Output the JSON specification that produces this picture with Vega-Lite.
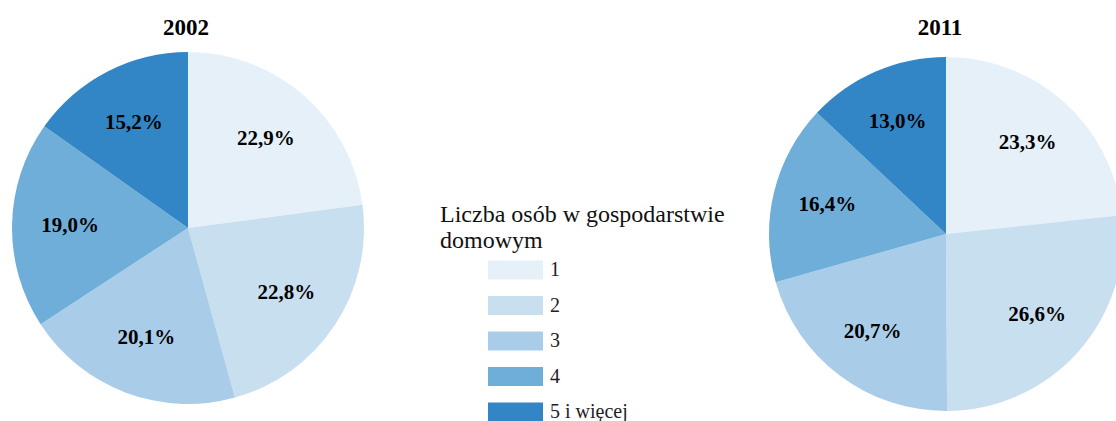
{
  "$schema": "https://vega.github.io/schema/vega-lite/v6.json",
  "width": 1116,
  "height": 421,
  "padding": 0,
  "autosize": {"type": "fit", "contains": "padding"},
  "background": "white",
  "config": {"view": {"stroke": null}, "font": "Liberation Serif, Times New Roman, serif"},
  "datasets": {
    "shares": [
      {"year": 2002, "cat": "1", "ord": 1, "value": 22.9, "label": "22,9%"},
      {"year": 2002, "cat": "2", "ord": 2, "value": 22.8, "label": "22,8%"},
      {"year": 2002, "cat": "3", "ord": 3, "value": 20.1, "label": "20,1%"},
      {"year": 2002, "cat": "4", "ord": 4, "value": 19.0, "label": "19,0%"},
      {"year": 2002, "cat": "5 i więcej", "ord": 5, "value": 15.2, "label": "15,2%"},
      {"year": 2011, "cat": "1", "ord": 1, "value": 23.3, "label": "23,3%"},
      {"year": 2011, "cat": "2", "ord": 2, "value": 26.6, "label": "26,6%"},
      {"year": 2011, "cat": "3", "ord": 3, "value": 20.7, "label": "20,7%"},
      {"year": 2011, "cat": "4", "ord": 4, "value": 16.4, "label": "16,4%"},
      {"year": 2011, "cat": "5 i więcej", "ord": 5, "value": 13.0, "label": "13,0%"}
    ],
    "titles": [
      {"year": 2002, "title": "2002"},
      {"year": 2011, "title": "2011"}
    ]
  },
  "layer": [
    {
      "data": {"name": "shares"},
      "transform": [{"filter": "datum.year == 2002"}],
      "encoding": {
        "x": {"field": "year", "type": "quantitative", "axis": null, "scale": {"domain": [2002, 2011], "range": [188, 946]}},
        "y": {"field": "year", "type": "quantitative", "axis": null, "scale": {"domain": [2002, 2011], "range": [228, 234]}},
        "theta": {"field": "value", "type": "quantitative", "stack": true, "scale": {"domain": [0, 100]}},
        "order": {"field": "ord", "type": "quantitative"}
      },
      "layer": [
        {
          "mark": {"type": "arc", "outerRadius": 176},
          "encoding": {
            "color": {
              "field": "cat", "type": "nominal",
              "scale": {"domain": ["1", "2", "3", "4", "5 i więcej"], "range": ["#e5f0f9", "#c8dff0", "#a9cde8", "#6eaed9", "#3286c6"]},
              "legend": {
                "orient": "none", "legendX": 440, "legendY": 203, "padding": 0,
                "title": ["Liczba osób w gospodarstwie", "domowym"],
                "titleFont": "Liberation Serif, Times New Roman, serif", "titleFontSize": 24, "titleFontWeight": "normal", "titleColor": "#111",
                "titleLineHeight": 26, "titleBaseline": "top", "titlePadding": 7, "titleLimit": 500,
                "symbolType": "M-2.75,-0.95L2.75,-0.95L2.75,0.95L-2.75,0.95Z",
                "symbolSize": 400, "symbolOffset": 65.5, "symbolStrokeWidth": 0,
                "labelFont": "Liberation Serif, Times New Roman, serif", "labelFontSize": 20, "labelColor": "#222", "labelOffset": 24.5,
                "rowPadding": 15.5
              }
            }
          }
        },
        {
          "mark": {"type": "text", "radius": 118, "font": "Liberation Serif, Times New Roman, serif", "fontSize": 21, "fontWeight": "bold", "color": "#000"},
          "encoding": {"text": {"field": "label"}, "detail": {"field": "cat"}}
        }
      ]
    },
    {
      "data": {"name": "shares"},
      "transform": [{"filter": "datum.year == 2011"}],
      "encoding": {
        "x": {"field": "year", "type": "quantitative", "axis": null, "scale": {"domain": [2002, 2011], "range": [188, 946]}},
        "y": {"field": "year", "type": "quantitative", "axis": null, "scale": {"domain": [2002, 2011], "range": [228, 234]}},
        "theta": {"field": "value", "type": "quantitative", "stack": true, "scale": {"domain": [0, 100]}},
        "order": {"field": "ord", "type": "quantitative"}
      },
      "layer": [
        {
          "mark": {"type": "arc", "outerRadius": 177},
          "encoding": {"color": {"field": "cat", "type": "nominal"}}
        },
        {
          "mark": {"type": "text", "radius": 122, "font": "Liberation Serif, Times New Roman, serif", "fontSize": 21, "fontWeight": "bold", "color": "#000"},
          "encoding": {"text": {"field": "label"}, "detail": {"field": "cat"}}
        }
      ]
    },
    {
      "data": {"name": "titles"},
      "mark": {"type": "text", "font": "Liberation Serif, Times New Roman, serif", "fontSize": 23, "fontWeight": "bold", "color": "#000"},
      "encoding": {
        "x": {"field": "year", "type": "quantitative", "axis": null, "scale": {"domain": [2002, 2011], "range": [186, 940]}},
        "y": {"field": "year", "type": "quantitative", "axis": null, "scale": {"domain": [2002, 2011], "range": [28, 28]}},
        "text": {"field": "title"}
      }
    }
  ],
  "resolve": {"scale": {"x": "independent", "y": "independent"}}
}
